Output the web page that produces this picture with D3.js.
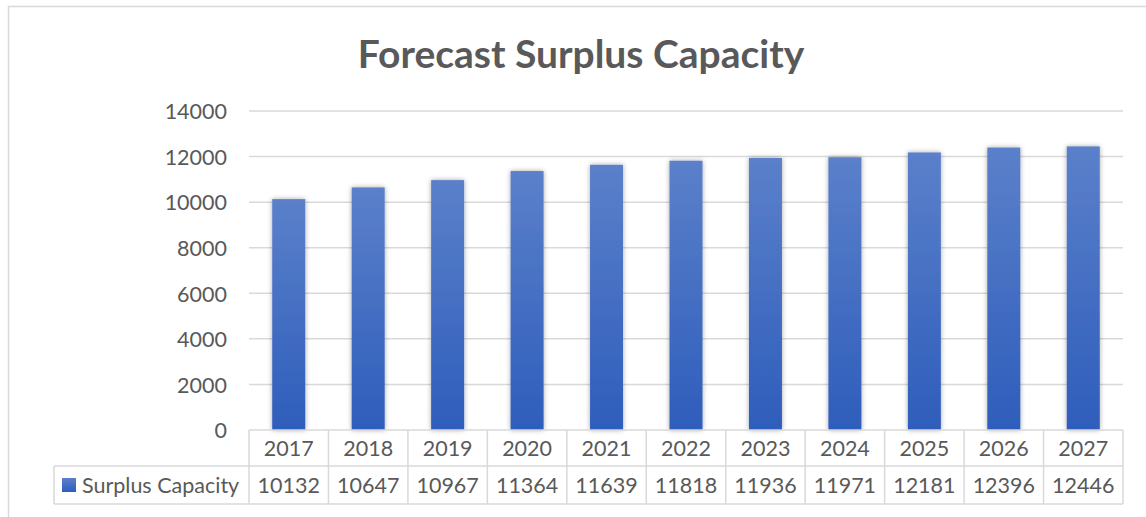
<!DOCTYPE html>
<meta charset="utf-8">
<style>
  body { margin: 0; background: #fff; font-family: Lato, "Open Sans", sans-serif; }
  text { fill: #595959; }
</style>
<body>
<svg id="chart" width="1146" height="517"></svg>
<script src="https://d3js.org/d3.v7.min.js"></script>
<script>
  var years = ["2017", "2018", "2019", "2020", "2021", "2022", "2023", "2024", "2025", "2026", "2027"];
  var surplus = [10132, 10647, 10967, 11364, 11639, 11818, 11936, 11971, 12181, 12396, 12446];
  var yTicks = [0, 2000, 4000, 6000, 8000, 10000, 12000, 14000];
  var seriesName = "Surplus Capacity";

  var svg = d3.select("#chart");
  var plot = {left: 249, right: 1123, top: 111, bottom: 430};
  var rowH = 37;
  var fs = "21.5px";

  var defs = svg.append("defs");
  var grad = defs.append("linearGradient").attr("id", "barGrad")
    .attr("x1", 0).attr("y1", 0).attr("x2", 0).attr("y2", 1);
  grad.append("stop").attr("offset", "0%").attr("stop-color", "#5B80CA");
  grad.append("stop").attr("offset", "100%").attr("stop-color", "#2E5DBB");
  var shadow = defs.append("filter").attr("id", "shadow")
    .attr("x", "-30%").attr("y", "-10%").attr("width", "160%").attr("height", "120%");
  shadow.append("feDropShadow").attr("dx", 0).attr("dy", 0)
    .attr("stdDeviation", 2.5).attr("flood-color", "#000").attr("flood-opacity", 0.35);

  // chart border
  svg.append("rect").attr("x", 8.5).attr("y", 6.5).attr("width", 1150).attr("height", 520)
    .attr("fill", "none").attr("stroke", "#D9D9D9").attr("stroke-width", 1.5);

  svg.append("text")
    .attr("x", 581).attr("y", 68)
    .attr("text-anchor", "middle")
    .style("font-size", "39px").style("font-weight", "bold")
    .text("Forecast Surplus Capacity");

  var x = d3.scaleBand().domain(years).range([plot.left, plot.right]).paddingInner(0).paddingOuter(0);
  var y = d3.scaleLinear().domain([0, 14000]).range([plot.bottom, plot.top]);

  // gridlines
  svg.append("g").selectAll("line").data(yTicks.slice(1)).join("line")
    .attr("x1", plot.left).attr("x2", plot.right)
    .attr("y1", function(d) { return y(d); }).attr("y2", function(d) { return y(d); })
    .attr("stroke", "#D9D9D9").attr("stroke-width", 1.5);

  // y axis labels
  var yAxis = svg.append("g").attr("transform", "translate(" + (plot.left - 22) + ",0)")
    .call(d3.axisLeft(y).tickValues(yTicks).tickFormat(d3.format("d")).tickSize(0).tickPadding(0));
  yAxis.select(".domain").remove();
  yAxis.selectAll("text").style("font-size", fs).style("font-family", "Lato, sans-serif")
    .attr("fill", "#595959").attr("dy", "0.36em");

  // bars
  var bw = 33;
  svg.append("g").selectAll("rect").data(surplus).join("rect")
    .attr("x", function(d, i) { return x(years[i]) + x.bandwidth() / 2 - bw / 2; })
    .attr("y", function(d) { return y(d); })
    .attr("width", bw)
    .attr("height", function(d) { return y(0) - y(d); })
    .attr("fill", "url(#barGrad)")
    .attr("filter", "url(#shadow)");

  // data table
  var table = svg.append("g");
  var lineColor = "#D9D9D9";
  var hLine = function(x1, x2, yy) {
    table.append("line").attr("x1", x1).attr("x2", x2).attr("y1", yy).attr("y2", yy)
      .attr("stroke", lineColor).attr("stroke-width", 1.5);
  };
  var vLine = function(xx, y1, y2) {
    table.append("line").attr("x1", xx).attr("x2", xx).attr("y1", y1).attr("y2", y2)
      .attr("stroke", lineColor).attr("stroke-width", 1.5);
  };
  var t0 = plot.bottom, t1 = t0 + rowH - 1, t2 = t1 + rowH + 1;
  hLine(plot.left, plot.right, t0);
  hLine(54, plot.right, t1);
  hLine(54, plot.right, t2);
  vLine(54, t1, t2);
  years.forEach(function(yr) { vLine(x(yr), t0, t2); });
  vLine(plot.right, t0, t2);

  table.selectAll("text.cat").data(years).join("text").attr("class", "cat")
    .attr("x", function(d) { return x(d) + x.bandwidth() / 2; })
    .attr("y", (t0 + t1) / 2 + 7.5)
    .attr("text-anchor", "middle").style("font-size", fs)
    .text(function(d) { return d; });

  table.selectAll("text.val").data(surplus).join("text").attr("class", "val")
    .attr("x", function(d, i) { return x(years[i]) + x.bandwidth() / 2; })
    .attr("y", (t1 + t2) / 2 + 7.5)
    .attr("text-anchor", "middle").style("font-size", fs)
    .text(function(d) { return d; });

  table.append("rect").attr("x", 62).attr("y", (t1 + t2) / 2 - 7).attr("width", 14).attr("height", 14)
    .attr("fill", "url(#barGrad)");
  table.append("text").attr("x", 82).attr("y", (t1 + t2) / 2 + 7.5)
    .style("font-size", fs).text(seriesName);
</script>
</body>
